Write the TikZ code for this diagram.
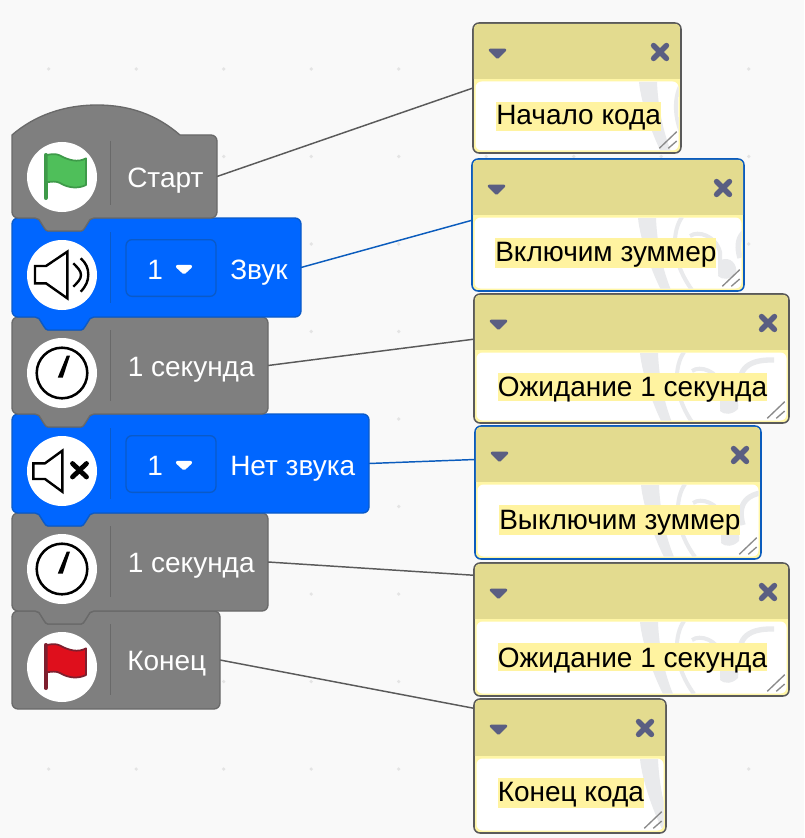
\documentclass[tikz,border=0pt]{standalone}
\usepackage{fontspec}
\setmainfont{Liberation Sans}
\definecolor{pagebg}{HTML}{F9F9F9}
\definecolor{griddot}{HTML}{E4E4E4}
\definecolor{grayfill}{HTML}{7F7F7F}
\definecolor{graydark}{HTML}{696969}
\definecolor{bluefill}{HTML}{0066FF}
\definecolor{bluedark}{HTML}{0A5AC8}
\definecolor{linegray}{HTML}{5A5A5A}
\definecolor{lineblue}{HTML}{0B5CBD}
\definecolor{headfill}{HTML}{E3DB8F}
\definecolor{noteyellow}{HTML}{FFF6A6}
\definecolor{hilite}{HTML}{FFF3A0}
\definecolor{iconslate}{HTML}{5A5E82}
\definecolor{wmark}{HTML}{E9EAEC}
\definecolor{gripgray}{HTML}{8A8A8A}
\definecolor{flaggreen}{HTML}{4FBF5A}
\definecolor{flaggreend}{HTML}{3E9A49}
\definecolor{flagred}{HTML}{DF0F1C}
\definecolor{flagredd}{HTML}{7E1F2E}
\def\notchT{.. controls +(2,0) and +(-1.5,-1.5) .. ++(4,1.5) -- ++(5,8) .. controls +(1.5,2) and +(-2,0) .. ++(4,3.5) -- ++(33,0) .. controls +(2,0) and +(-1.5,2) .. ++(4,-3.5) -- ++(5,-8) .. controls +(1.5,-1.5) and +(-2,0) .. ++(4,-1.5)}
\def\tabB{.. controls +(-2,0) and +(1.5,-1.5) .. ++(-4,1.5) -- ++(-5,8) .. controls +(-1.5,2) and +(2,0) .. ++(-4,3.5) -- ++(-33,0) .. controls +(-2,0) and +(1.5,2) .. ++(-4,-3.5) -- ++(-5,-8) .. controls +(-1.5,-1.5) and +(2,0) .. ++(-4,-1.5)}
\def\cTR{.. controls +(3.3,0) and +(0,-3.3) .. ++(6,6)}
\def\cBR{.. controls +(0,3.3) and +(3.3,0) .. ++(-6,6)}
\def\cBL{.. controls +(-3.3,0) and +(0,3.3) .. ++(-6,-6)}
\def\cTL{.. controls +(0,-3.3) and +(-3.3,0) .. ++(6,-6)}
\tikzset{
  blockgray/.style={fill=grayfill,draw=graydark,line width=1pt},
  blockblue/.style={fill=bluefill,draw=bluedark,line width=1pt},
  sepgray/.style={draw=graydark,line width=1pt},
  sepblue/.style={draw=bluedark,line width=1pt},
  anchorbox/.style={inner sep=0pt,outer sep=0pt},
  iconbg/.style={circle,fill=white,inner sep=0pt,minimum size=52.5pt},
  blocktext/.style={text=white,anchor=base west,inner sep=0pt,font=\fontsize{21pt}{25pt}\selectfont},
  notetext/.style={text=black,anchor=base west,inner xsep=0pt,inner ysep=0pt,fill=hilite,font=\fontsize{21pt}{25pt}\selectfont},
  wire/.style={line width=1.1pt},
  dropbox/.style={fill=bluefill,draw=bluedark,line width=1pt,rounded corners=4.5pt,inner sep=0pt,outer sep=0pt,minimum width=67.5pt,minimum height=42.5pt},
  spk/.style={draw=black,fill=white,line width=1.8pt,line join=miter},
  spkwave/.style={draw=black,line width=1.8pt},
}
% name, x1, y0, y1
\newcommand\anchorblock[4]{\node[anchorbox,minimum width={(#2-12)*0.75pt},minimum height={(#4-#3)*0.75pt}] (#1) at ({(12+#2)/2},{(#3+#4)/2}) {};}
\newcommand\midblock[4]{\draw[#4] (18,#2) -- (35,#2) \notchT -- ({#1-6},#2) \cTR -- (#1,{#3-6}) \cBR -- (94,#3) \tabB -- (18,#3) \cBL -- (12,{#2+6}) \cTL -- cycle;}
\newcommand\dropdown[3]{\node[dropbox] (#1) at (171,{#2+0}) {};
  \node[blocktext] (#3) at (147,{#2+11}) {1};
  \fill[white,draw=white,line width=2.5pt,line join=round] (177.5,{#2-1.5}) -- (190.5,{#2-1.5}) -- (184,{#2+4.5}) -- cycle;}
\newcommand\clockface[2]{\draw[black,line width=1.9pt] (62,#1) circle[radius=25.3];
  \fill[black] (57.8,{#1+4.5}) -- (62.8,{#1+4.5}) -- (70,{#1-17.5}) -- (66.8,{#1-17.5}) -- cycle;}
% name,x0,y0,x1,y1,yh,colour
\newcommand\notebox[7]{%
  \node[anchorbox,draw=#7,line width=1.15pt,fill=noteyellow,rounded corners=4.5pt,minimum width={(#4-#2)*0.75pt},minimum height={(#5-#3)*0.75pt}] (#1) at ({(#2+#4)/2},{(#3+#5)/2}) {};
  \begin{scope}
    \clip[rounded corners=4pt] ({#2+.8},{#3+.8}) rectangle ({#4-.8},{#5-.8});
    \fill[headfill] (#2,#3) rectangle (#4,#6);
  \end{scope}
  \begin{scope}
    \clip[rounded corners=4.5pt] ({#2+2.5},{#6+2.5}) rectangle ({#4-2.5},{#5-2.5});
    \fill[white] (#2,#6) rectangle (#4,#5);
    \begin{scope}[shift={({#2+166},{#6+3})}]
      \fill[wmark] (0,0) .. controls (2,20) and (12,50) .. (23,72) -- (33,72) .. controls (24,50) and (19,25) .. (18,0) -- cycle;
      \draw[wmark,line width=3pt] (44,-1) .. controls (35,12) and (31,40) .. (54,72);
      \draw[wmark,line width=3pt] (52,18) .. controls (60,12) and (78,18) .. (82,34) -- (82,56);
      \fill[wmark] (83,42) .. controls (92,38) and (100,46) .. (98,56) .. controls (92,62) and (84,62) .. (80,58) -- cycle;
      \draw[wmark,line width=4pt] (102,40) .. controls (96,20) and (104,6) .. (134,7);
    \end{scope}
  \end{scope}
  \fill[iconslate,draw=iconslate,line width=2pt,line join=round] ({#2+17},{#3+27}) -- ({#2+32},{#3+27}) -- ({#2+24.5},{#3+34.5}) -- cycle;
  \draw[iconslate,line width=4pt,line cap=round] ({#4-27.5},{#3+22.5}) -- ({#4-14.5},{#3+35.5}) ({#4-14.5},{#3+22.5}) -- ({#4-27.5},{#3+35.5});
  \draw[gripgray,line width=1pt] ({#4-21.7},{#5-4.7}) -- ({#4-4.3},{#5-21.3}) ({#4-12.7},{#5-4.7}) -- ({#4-4.3},{#5-12});
}
\begin{document}
\begin{tikzpicture}[x=0.75pt,y=-0.75pt]
\useasboundingbox (0,0) rectangle (804,838);
\fill[pagebg] (0,0) rectangle (804,838);
\foreach \gx in {48.7,136.2,223.7,311.2,398.7,486.2,573.7,661.2,748.7}
  \foreach \gy in {69,156.5,244,331.5,419,506.5,594,681.5,769}
    \fill[griddot] (\gx,\gy) circle[radius=1.8];
% anchors of the blocks
\anchorblock{b1}{217}{135}{218}
\anchorblock{b2}{301}{218}{317}
\anchorblock{b3}{268}{317}{414}
\anchorblock{b4}{369}{414}{513}
\anchorblock{b5}{268}{513}{611}
\anchorblock{b6}{220}{611}{709}
% comments
\notebox{c1}{473}{23}{681}{153}{79}{linegray}
\notebox{c2}{472}{159}{744}{291}{215}{lineblue}
\notebox{c3}{474}{294}{789}{423}{350}{linegray}
\notebox{c4}{475}{426}{761}{559}{482}{lineblue}
\notebox{c5}{474}{563}{789}{696}{619}{linegray}
\notebox{c6}{474}{699}{666}{833}{756}{linegray}
% connectors
\draw[wire,linegray] (b1.east) -- (c1.180.5);
\draw[wire,lineblue] (b2.east) -- (c2.178.7);
\draw[wire,linegray] (b3.east) -- (c3.173.7);
\draw[wire,lineblue] (b4.east) -- (c4.167.2);
\draw[wire,linegray] (b5.east) -- (c5.161.9);
\draw[wire,linegray] (b6.east) -- (c6.149.3);
% block shapes, lowest first
\draw[blockgray] (18,611) -- (35,611) \notchT -- (214,611) \cTR -- (220,703) \cBR -- (18,709) \cBL -- (12,617) \cTL -- cycle;
\midblock{268}{513}{611}{blockgray}
\midblock{369}{414}{513}{blockblue}
\midblock{268}{317}{414}{blockgray}
\midblock{301}{218}{317}{blockblue}
\draw[blockgray] (12,135) .. controls (35,115) and (65,105) .. (97,105) .. controls (130,105) and (157,115) .. (180,135) -- (211,135) \cTR -- (217,212) \cBR -- (94,218) \tabB -- (18,218) \cBL -- cycle;
% separators
\draw[sepgray] (110.5,141) -- (110.5,205);
\draw[sepblue] (110.5,232) -- (110.5,303);
\draw[sepgray] (110.5,330) -- (110.5,401);
\draw[sepblue] (110.5,428) -- (110.5,499);
\draw[sepgray] (110.5,526) -- (110.5,597);
\draw[sepgray] (110.5,624) -- (110.5,695);
% icon discs
\node[iconbg] (i1) at (62,177) {};
\node[iconbg] (i2) at (62,275) {};
\node[iconbg] (i3) at (62,373) {};
\node[iconbg] (i4) at (62,471) {};
\node[iconbg] (i5) at (62,569) {};
\node[iconbg] (i6) at (62,667) {};
% green flag
\draw[flaggreend,line width=3pt,line cap=round] (45.7,155) -- (45.7,198);
\draw[flaggreend,fill=flaggreen,line width=1.3pt,line join=round] (46.7,155) .. controls (52,154) and (56,153.5) .. (60,155.5) .. controls (68,160) and (78,163) .. (86,158.3) -- (86,185) .. controls (78,189) and (68,188) .. (60,183) .. controls (56,181) and (52,181.5) .. (46.7,182.3) -- cycle;
% speaker
\draw[spk] (35,266) -- (46,266) -- (67.3,251.7) -- (67.3,298.3) -- (46,283.3) -- (35,283.3) -- cycle;
\draw[spkwave] (73.3,263.3) .. controls (78,268) and (81,271) .. (81,275) .. controls (81,279) and (78,282) .. (73.3,286.7);
\draw[spkwave] (80.7,258.3) .. controls (86,263) and (88.3,268) .. (88.3,274.5) .. controls (88.3,281) and (86,286) .. (80.7,291.7);
% clocks
\clockface{373}{}
\clockface{569}{}
% muted speaker
\draw[spk] (33.3,463.3) -- (45,463.3) -- (62.3,450.7) -- (62.3,491.7) -- (45,479) -- (33.3,479) -- cycle;
\draw[black,line width=3.6pt,line cap=round] (72.5,463.5) -- (86.5,477) (86.5,463.5) -- (72.5,477);
% red flag
\draw[flagredd,line width=3pt,line cap=round] (45.7,645) -- (45.7,688);
\draw[flagredd,fill=flagred,line width=1.3pt,line join=round] (46.7,645) .. controls (52,644) and (56,643.5) .. (60,645.5) .. controls (68,650) and (78,653) .. (86,648.3) -- (86,675) .. controls (78,679) and (68,678) .. (60,673) .. controls (56,671) and (52,671.5) .. (46.7,672.3) -- cycle;
% dropdowns and labels
\dropdown{d2}{268}{dn2}
\dropdown{d4}{464}{dn4}
\node[blocktext] (t1) at (127,187.7) {Старт};
\node[blocktext] (t2) at (230,279) {Звук};
\node[blocktext] (t3) at (127.5,376.7) {1 секунда};
\node[blocktext] (t4) at (230,475) {Нет звука};
\node[blocktext] (t5) at (127.5,572.7) {1 секунда};
\node[blocktext] (t6) at (127,670.7) {Конец};
% comment texts
\node[notetext,text height=17.5pt,text depth=4.5pt] (n1) at (496,125) {Начало кода};
\node[notetext,text height=18pt,text depth=5pt] (n2) at (495,261.7) {Включим зуммер~};
\node[notetext,text height=18pt,text depth=3pt] (n3) at (497.5,396.7) {Ожидание 1 секунда};
\node[notetext,text height=18pt,text depth=4.5pt] (n4) at (499,529) {Выключим зуммер};
\node[notetext,text height=18pt,text depth=3pt] (n5) at (497.5,667) {Ожидание 1 секунда};
\node[notetext,text height=18pt,text depth=5pt] (n6) at (497.5,801.7) {Конец кода};
\end{tikzpicture}
\end{document}
